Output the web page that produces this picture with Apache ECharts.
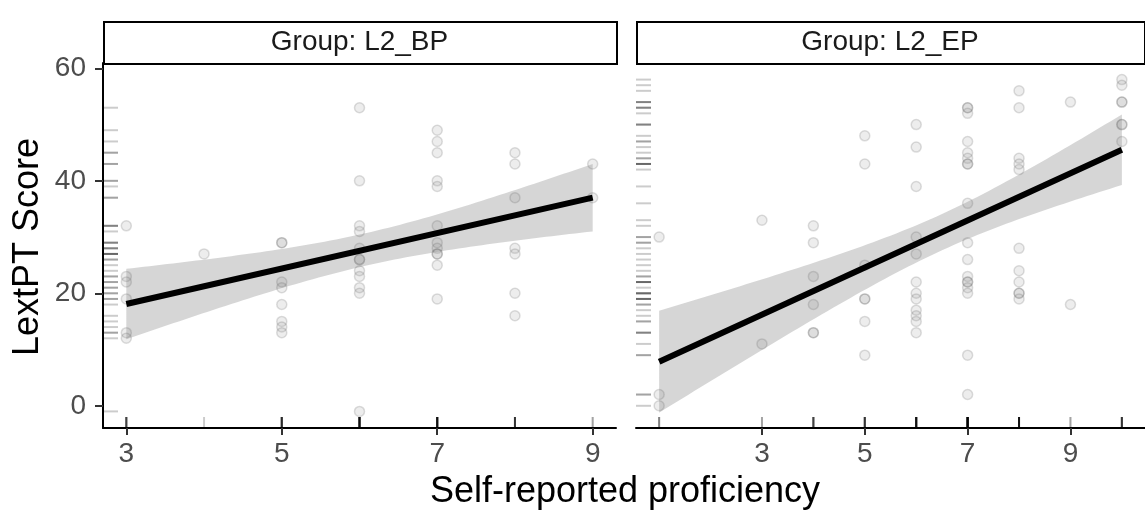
<!DOCTYPE html>
<html>
<head>
<meta charset="utf-8">
<script src="https://cdn.jsdelivr.net/npm/echarts@6/dist/echarts.min.js"></script>
<style>
  html, body { margin: 0; background: #fff; }
  #main { width: 1145px; height: 512px; }
</style>
</head>
<body>
<div id="main"></div>
<script>
  // 数据：每个熟练度等级对应的 LextPT 分数
  var bpLevels = [3, 4, 5, 6, 7, 8, 9]
  var bpScores = [
    [32, 23, 22, 19, 13, 12],
    [27],
    [29, 29, 22, 21, 18, 15, 14, 13],
    [53, 40, 32, 31, 28, 26, 26, 24, 23, 21, 20, -1],
    [49, 47, 45, 40, 39, 32, 29, 28, 27, 27, 25, 19],
    [45, 43, 37, 28, 27, 20, 16],
    [43, 37]
  ]
  var epLevels = [1, 3, 4, 5, 6, 7, 8, 9, 10]
  var epScores = [
    [30, 2, 0],
    [33, 11],
    [32, 29, 23, 18, 13, 13],
    [48, 43, 25, 19, 19, 15, 9],
    [50, 46, 39, 30, 27, 22, 20, 19, 17, 16, 15, 13],
    [53, 53, 52, 47, 45, 44, 43, 43, 36, 29, 26, 23, 22, 22, 21, 20, 9, 2],
    [56, 53, 44, 43, 42, 28, 24, 22, 20, 20, 19],
    [54, 18],
    [58, 57, 54, 54, 50, 50, 47]
  ]
  var yTicks = [0, 20, 40, 60]
  var xTicks = [3, 5, 7, 9]
  var groupNames = ['Group: L2_BP', 'Group: L2_EP']

  var Y_MIN = -3.95, Y_MAX = 60.95
  var xRanges = [[2.7, 9.3], [0.55, 10.45]]
  var FONT = '"Liberation Sans", Arial, sans-serif'

  function toPoints(levels, scores) {
    var pts = []
    levels.forEach(function (lv, i) {
      scores[i].forEach(function (s) { pts.push([lv, s]) })
    })
    return pts
  }

  // t 分位数近似
  function tq(df) {
    var z = 1.959964
    return z + (Math.pow(z, 3) + z) / (4 * df) +
      (5 * Math.pow(z, 5) + 16 * Math.pow(z, 3) + 3 * z) / (96 * df * df)
  }

  // 线性回归 + 95% 置信带
  function lmFit(pts) {
    var n = pts.length, mx = 0, my = 0
    pts.forEach(function (p) { mx += p[0]; my += p[1] })
    mx /= n; my /= n
    var sxx = 0, sxy = 0
    pts.forEach(function (p) { sxx += (p[0] - mx) * (p[0] - mx); sxy += (p[0] - mx) * (p[1] - my) })
    var b = sxy / sxx, a = my - b * mx
    var rss = 0
    pts.forEach(function (p) { var r = p[1] - a - b * p[0]; rss += r * r })
    var s = Math.sqrt(rss / (n - 2)), t = tq(n - 2)
    var x0 = Math.min.apply(null, pts.map(function (p) { return p[0] }))
    var x1 = Math.max.apply(null, pts.map(function (p) { return p[0] }))
    var upper = [], lower = []
    for (var k = 0; k <= 80; k++) {
      var x = x0 + (x1 - x0) * k / 80
      var yh = a + b * x
      var se = s * Math.sqrt(1 / n + (x - mx) * (x - mx) / sxx)
      upper.push([x, yh + t * se])
      lower.push([x, yh - t * se])
    }
    var line = [[x0, a + b * x0], [x1, a + b * x1]]
    return { line: line, upper: upper, lower: lower }
  }

  var panels = [toPoints(bpLevels, bpScores), toPoints(epLevels, epScores)]

  var chart = echarts.init(document.getElementById('main'))
  var grids = [
    { left: 103, top: 63, width: 513, height: 365 },
    { left: 636, top: 63, width: 514, height: 365 }
  ]
  var xAxes = [], yAxes = [], series = [], graphics = []

  panels.forEach(function (pts, i) {
    var xr = xRanges[i]
    xAxes.push({
      type: 'value', gridIndex: i, min: xr[0], max: xr[1],
      splitLine: { show: false },
      axisLine: { onZero: false, lineStyle: { color: '#000', width: 2 } },
      axisTick: { customValues: xTicks, length: 7, lineStyle: { color: '#333', width: 2 } },
      axisLabel: { customValues: xTicks, margin: 12, color: '#4d4d4d', fontSize: 28, fontFamily: FONT }
    })
    yAxes.push({
      type: 'value', gridIndex: i, min: Y_MIN, max: Y_MAX,
      splitLine: { show: false },
      axisLine: { show: i === 0, onZero: false, lineStyle: { color: '#000', width: 2 } },
      axisTick: { show: i === 0, customValues: yTicks, length: 8, lineStyle: { color: '#333', width: 2 } },
      axisLabel: { show: i === 0, customValues: yTicks, margin: 17, color: '#4d4d4d', fontSize: 28, fontFamily: FONT }
    })

    // 边缘地毯图
    series.push({
      type: 'custom', xAxisIndex: i, yAxisIndex: i, silent: true,
      data: pts,
      renderItem: function (params, api) {
        var px = api.coord([api.value(0), Y_MIN])
        var py = api.coord([xr[0], api.value(1)])
        var st = { stroke: 'rgba(0,0,0,0.2)', lineWidth: 2 }
        return {
          type: 'group',
          children: [
            { type: 'line', shape: { x1: px[0], y1: px[1], x2: px[0], y2: px[1] - 11 }, style: st },
            { type: 'line', shape: { x1: py[0], y1: py[1], x2: py[0] + 15, y2: py[1] }, style: st }
          ]
        }
      }
    })

    series.push({
      type: 'scatter', xAxisIndex: i, yAxisIndex: i, silent: true,
      data: pts, symbolSize: 10,
      itemStyle: { color: 'rgba(140,140,140,0.2)', borderColor: 'rgba(90,90,90,0.25)', borderWidth: 1.5 }
    })

    var f = lmFit(pts)
    series.push({
      type: 'custom', xAxisIndex: i, yAxisIndex: i, silent: true,
      data: [f.upper[0]],
      renderItem: function (params, api) {
        var poly = f.upper.map(function (p) { return api.coord(p) })
          .concat(f.lower.slice().reverse().map(function (p) { return api.coord(p) }))
        return { type: 'polygon', shape: { points: poly }, style: { fill: 'rgba(153,153,153,0.4)' } }
      }
    })
    series.push({
      type: 'line', xAxisIndex: i, yAxisIndex: i, silent: true,
      data: f.line, symbol: 'none',
      lineStyle: { color: '#000', width: 6 }
    })

    // 分面标题条
    var g = grids[i]
    var w = i === 0 ? g.width : 1144 - g.left
    graphics.push({
      type: 'rect', left: g.left, top: 21,
      shape: { width: w, height: 42 },
      style: { fill: '#fff', stroke: '#000', lineWidth: 2 }
    })
    graphics.push({
      type: 'text', x: g.left + w / 2, y: 42,
      style: { text: groupNames[i], align: 'center', verticalAlign: 'middle', font: '28px ' + FONT, fill: '#1a1a1a' }
    })
  })

  graphics.push({
    type: 'text', x: 28, y: 247, rotation: Math.PI / 2,
    style: { text: 'LextPT Score', align: 'center', verticalAlign: 'middle', font: '36px ' + FONT, fill: '#000' }
  })
  graphics.push({
    type: 'text', x: 625, y: 492,
    style: { text: 'Self-reported proficiency', align: 'center', verticalAlign: 'middle', font: '36px ' + FONT, fill: '#000' }
  })

  var option = {
    animation: false,
    backgroundColor: '#fff',
    grid: grids,
    xAxis: xAxes,
    yAxis: yAxes,
    series: series,
    graphic: graphics
  }
  chart.setOption(option)
</script>
</body>
</html>
